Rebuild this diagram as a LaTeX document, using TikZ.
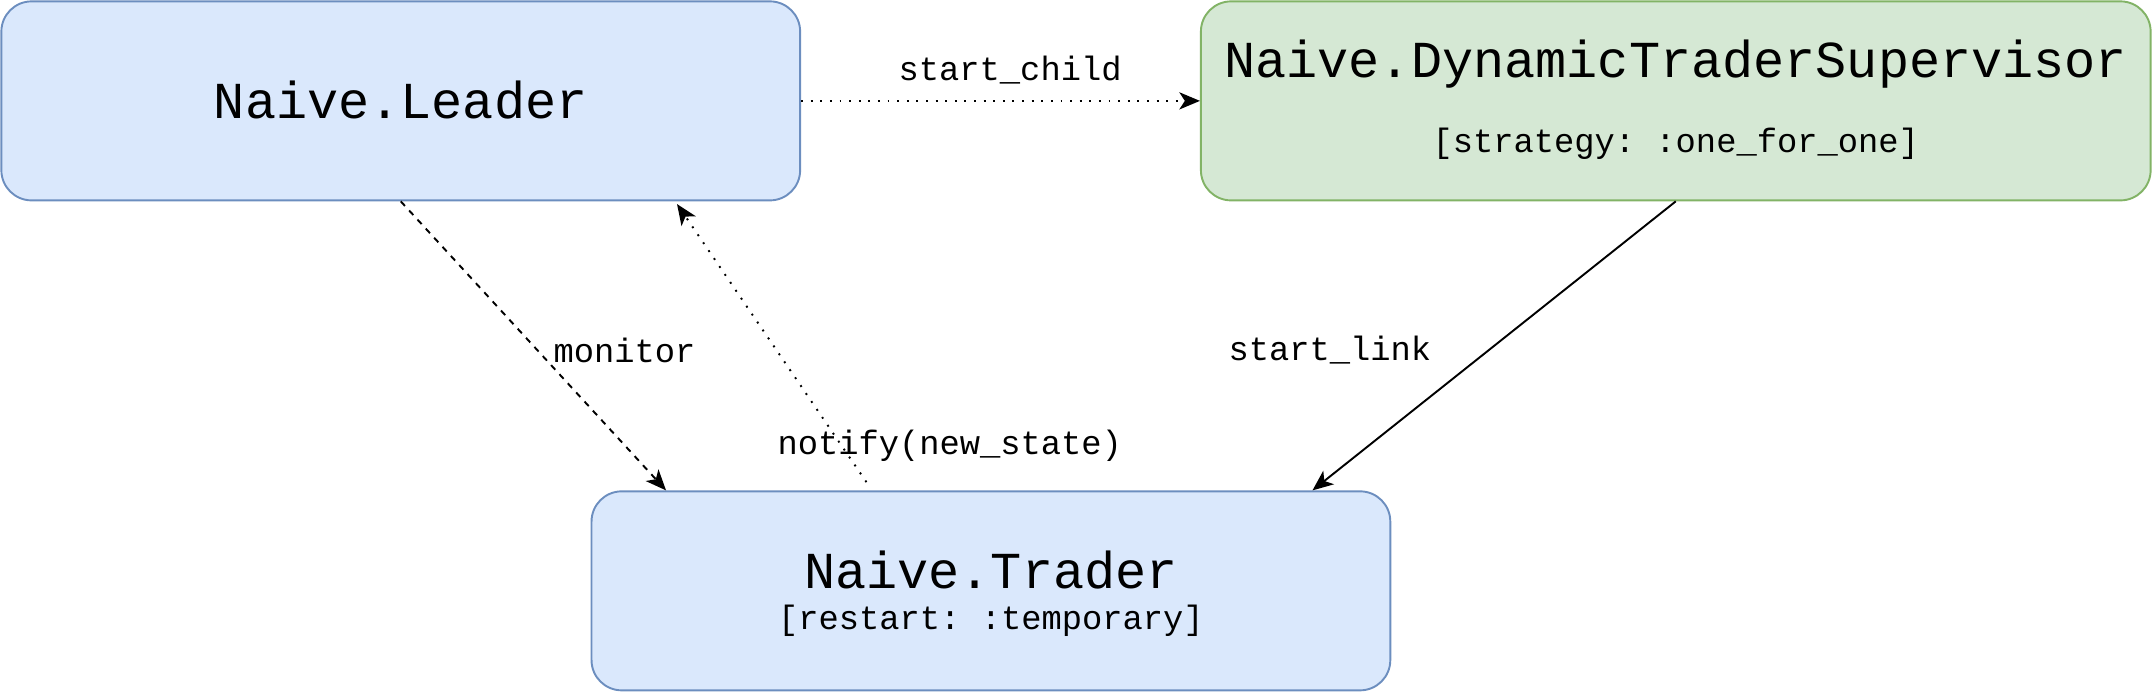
\documentclass[tikz,border=0pt]{standalone}
\usepackage{fontspec}
\setmonofont{Liberation Mono}
\usetikzlibrary{arrows.meta,calc}
\definecolor{bluefill}{HTML}{DAE8FC}
\definecolor{bluedraw}{HTML}{6C8EBF}
\definecolor{greenfill}{HTML}{D5E8D4}
\definecolor{greendraw}{HTML}{82B366}
\tikzset{
  box/.style={rectangle, rounded corners=22pt, line width=1.4pt, inner sep=0pt,
    minimum width=582pt, minimum height=145pt},
  bluebox/.style={box, fill=bluefill, draw=bluedraw},
  greenbox/.style={box, fill=greenfill, draw=greendraw},
  bigtext/.style={inner sep=0pt, font=\ttfamily\fontsize{37.8}{40}\selectfont},
  smalltext/.style={inner sep=0pt, font=\ttfamily\fontsize{24.6}{27}\selectfont},
  conn/.style={line width=1.4pt, -{Stealth[length=15pt,width=12.5pt,inset=4pt]}},
  dottedconn/.style={conn, dash pattern=on 1.4pt off 5.6pt},
  dashedconn/.style={conn, dash pattern=on 4.5pt off 4.5pt},
}
\begin{document}
\begin{tikzpicture}[x=1pt,y=-1pt]
\useasboundingbox (0,0) rectangle (1568,504);
% boxes
\node[bluebox] (leader) at (292,73.5) {};
\node[greenbox, minimum width=692pt] (dts) at (1221,73.5) {};
\node[bluebox] (trader) at (722,430.5) {};
% box texts
\node[bigtext] (leadertxt) at (292,73) {Naive.Leader};
\node[bigtext] (dtstxt) at (1221,47) {Naive.DynamicTraderSupervisor};
\node[smalltext] (dtssub) at (1221,105) {[strategy: :one\_for\_one]};
\node[bigtext] (tradertxt) at (722,415) {Naive.Trader};
\node[smalltext] (tradersub) at (722,452) {[restart: :temporary]};
% connector points
\coordinate (monend) at ($(trader.north west)+(55,0)$);
\coordinate (notstart) at ($(trader.north west)+(201,-6)$);
\coordinate (notend) at ($(leader.south west)+(493,2)$);
\coordinate (linkend) at ($(trader.north west)+(526,0)$);
% connectors
\draw[dottedconn] (leader.east) -- (dts.west);
\draw[dashedconn] (leader.south) -- (monend);
\draw[dottedconn] (notstart) -- (notend);
\draw[conn] (dts.south) -- (linkend);
% labels
\node[smalltext] (lblchild) at (736,51) {start\_child};
\node[smalltext] (lblmon) at (455,255) {monitor};
\node[smalltext] (lblnot) at (692,325) {notify(new\_state)};
\node[smalltext] (lbllink) at (969,255) {start\_link};
\end{tikzpicture}
\end{document}
